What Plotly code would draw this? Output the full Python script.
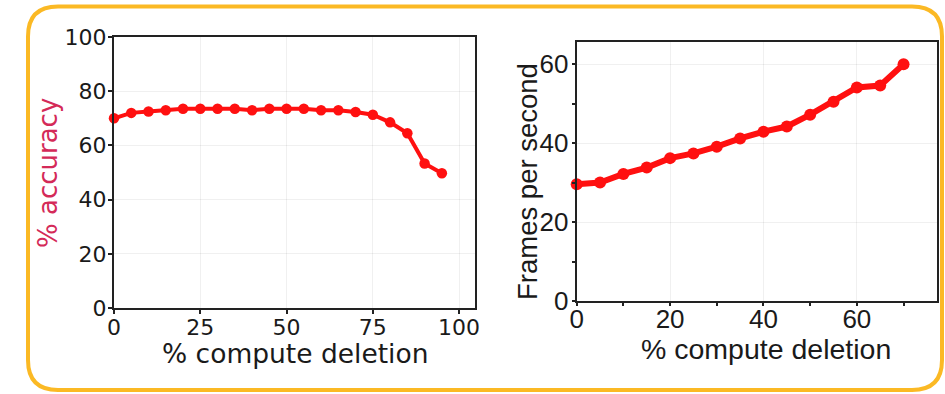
import plotly.graph_objects as go

W, H = 945, 394

# Left panel: accuracy vs compute deletion
acc_x = [0, 5, 10, 15, 20, 25, 30, 35, 40, 45, 50, 55, 60, 65, 70, 75, 80, 85, 90, 95]
acc_y = [70, 72, 72.5, 73, 73.5, 73.5, 73.5, 73.5, 73, 73.5, 73.5, 73.5, 73, 73, 72.3, 71.3, 68.5, 64.5, 53.3, 49.7]
acc_xticks = [0, 25, 50, 75, 100]
acc_yticks = [0, 20, 40, 60, 80, 100]

# Right panel: FPS vs compute deletion
fps_x = [0, 5, 10, 15, 20, 25, 30, 35, 40, 45, 50, 55, 60, 65, 70]
fps_y = [29.6, 30.0, 32.2, 33.8, 36.2, 37.4, 39.1, 41.2, 42.9, 44.2, 47.2, 50.5, 54.1, 54.6, 60.0]
fps_xticks = [0, 20, 40, 60]
fps_yticks = [0, 20, 40, 60]

RED = "#ff1010"
FRAME = "#fbb924"
LABEL_RED = "#d42a58"


def px(x):
    return x / W


def py(y):
    return 1 - y / H


fig = go.Figure()
fig.add_trace(go.Scatter(x=acc_x, y=acc_y, mode="lines+markers",
                         line=dict(color=RED, width=4),
                         marker=dict(color=RED, size=10.5),
                         xaxis="x", yaxis="y", showlegend=False, cliponaxis=False))
fig.add_trace(go.Scatter(x=fps_x, y=fps_y, mode="lines+markers",
                         line=dict(color=RED, width=6),
                         marker=dict(color=RED, size=12),
                         xaxis="x2", yaxis="y2", showlegend=False, cliponaxis=False))

left_font = dict(family="DejaVu Sans", size=22, color="#1a1a1a")
right_font = dict(family="Liberation Sans", size=26, color="#1a1a1a")
grid = "rgba(0,0,0,0.06)"

common = dict(showline=True, linecolor="#222", linewidth=2, mirror=True,
              ticks="outside", tickcolor="#222", tickwidth=1.5,
              showgrid=True, gridcolor=grid, gridwidth=1, zeroline=False,
              automargin=False)

fig.update_layout(
    width=W, height=H,
    margin=dict(l=0, r=0, t=0, b=0, pad=0),
    paper_bgcolor="white", plot_bgcolor="white",
    xaxis=dict(domain=[px(114), px(475)], range=[0, 104.6], tickvals=acc_xticks,
               tickfont=left_font, anchor="y", ticklen=4, ticklabelstandoff=-5, **common),
    yaxis=dict(domain=[py(308), py(37)], range=[0, 100], tickvals=acc_yticks,
               tickfont=left_font, anchor="x", ticklen=4, ticklabelstandoff=-3, **common),
    xaxis2=dict(domain=[px(576.7), px(936.7)], range=[0, 77.1], tickvals=fps_xticks,
                tickfont=right_font, anchor="y2", ticklen=3, ticklabelstandoff=-9,
                minor=dict(tickvals=[10, 30, 50, 70], ticks="outside", ticklen=3,
                           tickcolor="#222", showgrid=False),
                **common),
    yaxis2=dict(domain=[py(301), py(41.7)], range=[0, 65.7], tickvals=fps_yticks,
                tickfont=right_font, anchor="x2", ticklen=3, ticklabelstandoff=-2,
                minor=dict(tickvals=[10, 30, 50], ticks="outside", ticklen=3,
                           tickcolor="#222", showgrid=False),
                **common),
)

# Axis titles
fig.add_annotation(text="% compute deletion", x=px(295), y=py(353), xref="paper", yref="paper",
                   xanchor="center", yanchor="middle", showarrow=False, borderpad=0,
                   font=dict(family="DejaVu Sans", size=26.5, color="#1a1a1a"))
fig.add_annotation(text="% accuracy", x=px(48), y=py(173), xref="paper", yref="paper",
                   xanchor="center", yanchor="middle", showarrow=False, textangle=-90,
                   font=dict(family="DejaVu Sans", size=26, color=LABEL_RED))
fig.add_annotation(text="% compute deletion", x=px(766), y=py(349), xref="paper", yref="paper",
                   xanchor="center", yanchor="middle", showarrow=False, borderpad=0,
                   font=dict(family="Liberation Sans", size=28.5, color="#1a1a1a"))
fig.add_annotation(text="Frames per second", x=px(528), y=py(182), xref="paper", yref="paper",
                   xanchor="center", yanchor="middle", showarrow=False, textangle=-90,
                   font=dict(family="Liberation Sans", size=27.5, color="#1a1a1a"))

# Rounded orange frame
x0, x1, y0, y1, r = 28, 942, 6.5, 390, 30


def P(x, y):
    return f"{px(x):.5f},{py(y):.5f}"


path = (f"M {P(x0 + r, y0)} L {P(x1 - r, y0)} Q {P(x1, y0)} {P(x1, y0 + r)} "
        f"L {P(x1, y1 - r)} Q {P(x1, y1)} {P(x1 - r, y1)} "
        f"L {P(x0 + r, y1)} Q {P(x0, y1)} {P(x0, y1 - r)} "
        f"L {P(x0, y0 + r)} Q {P(x0, y0)} {P(x0 + r, y0)} Z")
fig.add_shape(type="path", path=path, xref="paper", yref="paper",
              line=dict(color=FRAME, width=4), fillcolor="rgba(0,0,0,0)", layer="below")

fig.write_html("out.html")
